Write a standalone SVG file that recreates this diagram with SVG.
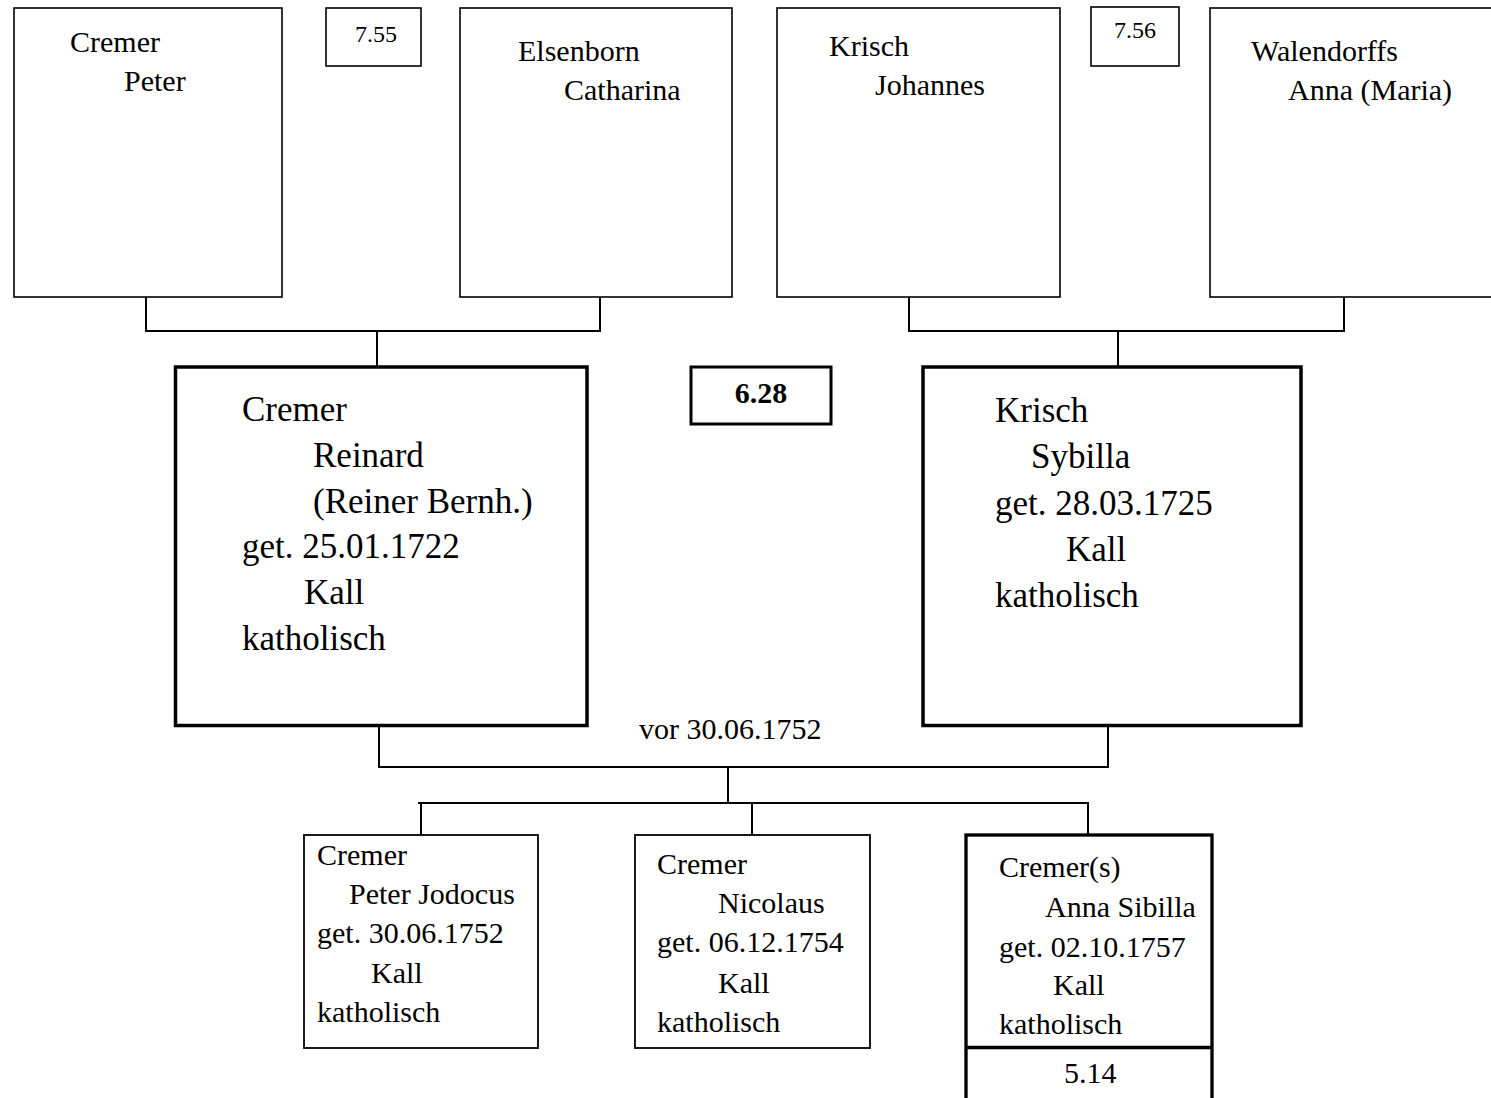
<svg xmlns="http://www.w3.org/2000/svg" width="1491" height="1098" viewBox="0 0 1491 1098">
  <style>
    text { font-family: "Liberation Serif", "Times New Roman", serif; fill: #000; }
    .box { fill: #fff; stroke: #000; stroke-width: 1.6; }
    .box-bold { fill: #fff; stroke: #000; stroke-width: 3.5; }
    .conn { fill: none; stroke: #000; stroke-width: 2; }
    .t30 { font-size: 30px; }
    .t35 { font-size: 35px; }
    .ref { font-size: 24px; }
    .ref-bold { font-size: 30px; font-weight: bold; }
  </style>
  <rect width="1491" height="1098" fill="#fff"/>

  <!-- connectors -->
  <g id="connectors">
    <!-- grandparents (father side) -->
    <polyline class="conn" points="146,297 146,331 600,331 600,297"/>
    <line class="conn" x1="377" y1="331" x2="377" y2="367"/>
    <!-- grandparents (mother side) -->
    <polyline class="conn" points="909,297 909,331 1344,331 1344,297"/>
    <line class="conn" x1="1118" y1="331" x2="1118" y2="367"/>
    <!-- parents marriage -->
    <polyline class="conn" points="379,727 379,767 1108,767 1108,727"/>
    <line class="conn" x1="728" y1="767" x2="728" y2="803"/>
    <!-- children bus -->
    <line class="conn" x1="418" y1="803" x2="1089" y2="803"/>
    <line class="conn" x1="421" y1="803" x2="421" y2="835"/>
    <line class="conn" x1="752" y1="803" x2="752" y2="835"/>
    <line class="conn" x1="1088" y1="803" x2="1088" y2="835"/>
  </g>

  <!-- generation 3 -->
  <g id="cremer-peter">
    <rect class="box" x="14" y="8" width="268" height="289"/>
    <text class="t30" x="70" y="52">Cremer</text>
    <text class="t30" x="124" y="91">Peter</text>
  </g>
  <g id="ref-7-55">
    <rect class="box" x="326" y="8" width="95" height="58"/>
    <text class="ref" x="355" y="42">7.55</text>
  </g>
  <g id="elsenborn-catharina">
    <rect class="box" x="460" y="8" width="272" height="289"/>
    <text class="t30" x="518" y="61">Elsenborn</text>
    <text class="t30" x="564" y="100">Catharina</text>
  </g>
  <g id="krisch-johannes">
    <rect class="box" x="777" y="8" width="283" height="289"/>
    <text class="t30" x="829" y="56">Krisch</text>
    <text class="t30" x="875" y="95">Johannes</text>
  </g>
  <g id="ref-7-56">
    <rect class="box" x="1091" y="7" width="88" height="59"/>
    <text class="ref" x="1114" y="38">7.56</text>
  </g>
  <g id="walendorffs-anna">
    <rect class="box" x="1210" y="8" width="300" height="289"/>
    <text class="t30" x="1251" y="61">Walendorffs</text>
    <text class="t30" x="1288" y="100">Anna (Maria)</text>
  </g>

  <!-- generation 2 -->
  <g id="cremer-reinard">
    <rect class="box-bold" x="175.5" y="367" width="411.5" height="358.5"/>
    <text class="t35" x="242" y="421">Cremer</text>
    <text class="t35" x="313" y="467">Reinard</text>
    <text class="t35" x="313" y="513">(Reiner Bernh.)</text>
    <text class="t35" x="242" y="558">get. 25.01.1722</text>
    <text class="t35" x="304" y="604">Kall</text>
    <text class="t35" x="242" y="650">katholisch</text>
  </g>
  <g id="ref-6-28">
    <rect class="box" x="691" y="367" width="140" height="57" style="stroke-width:3"/>
    <text class="ref-bold" x="761" y="403" text-anchor="middle">6.28</text>
  </g>
  <g id="krisch-sybilla">
    <rect class="box-bold" x="923" y="367" width="378" height="358.5"/>
    <text class="t35" x="995" y="422">Krisch</text>
    <text class="t35" x="1031" y="468">Sybilla</text>
    <text class="t35" x="995" y="515">get. 28.03.1725</text>
    <text class="t35" x="1066" y="561">Kall</text>
    <text class="t35" x="995" y="607">katholisch</text>
  </g>
  <text id="marriage-date" class="t30" x="639" y="739">vor 30.06.1752</text>

  <!-- generation 1 -->
  <g id="cremer-peter-jodocus">
    <rect class="box" x="304" y="835" width="234" height="213" style="stroke-width:1.8"/>
    <text class="t30" x="317" y="865">Cremer</text>
    <text class="t30" x="349" y="904">Peter Jodocus</text>
    <text class="t30" x="317" y="943">get. 30.06.1752</text>
    <text class="t30" x="371" y="983">Kall</text>
    <text class="t30" x="317" y="1022">katholisch</text>
  </g>
  <g id="cremer-nicolaus">
    <rect class="box" x="635" y="835" width="235" height="213" style="stroke-width:1.8"/>
    <text class="t30" x="657" y="874">Cremer</text>
    <text class="t30" x="718" y="913">Nicolaus</text>
    <text class="t30" x="657" y="952">get. 06.12.1754</text>
    <text class="t30" x="718" y="993">Kall</text>
    <text class="t30" x="657" y="1032">katholisch</text>
  </g>
  <g id="cremers-anna-sibilla">
    <rect class="box-bold" x="966" y="835" width="246" height="280" style="stroke-width:3.3"/>
    <line x1="966" y1="1047.5" x2="1212" y2="1047.5" stroke="#000" stroke-width="3.3"/>
    <text class="t30" x="999" y="877">Cremer(s)</text>
    <text class="t30" x="1045" y="917">Anna Sibilla</text>
    <text class="t30" x="999" y="957">get. 02.10.1757</text>
    <text class="t30" x="1053" y="995">Kall</text>
    <text class="t30" x="999" y="1034">katholisch</text>
    <text class="t30" x="1064" y="1083">5.14</text>
  </g>
</svg>
